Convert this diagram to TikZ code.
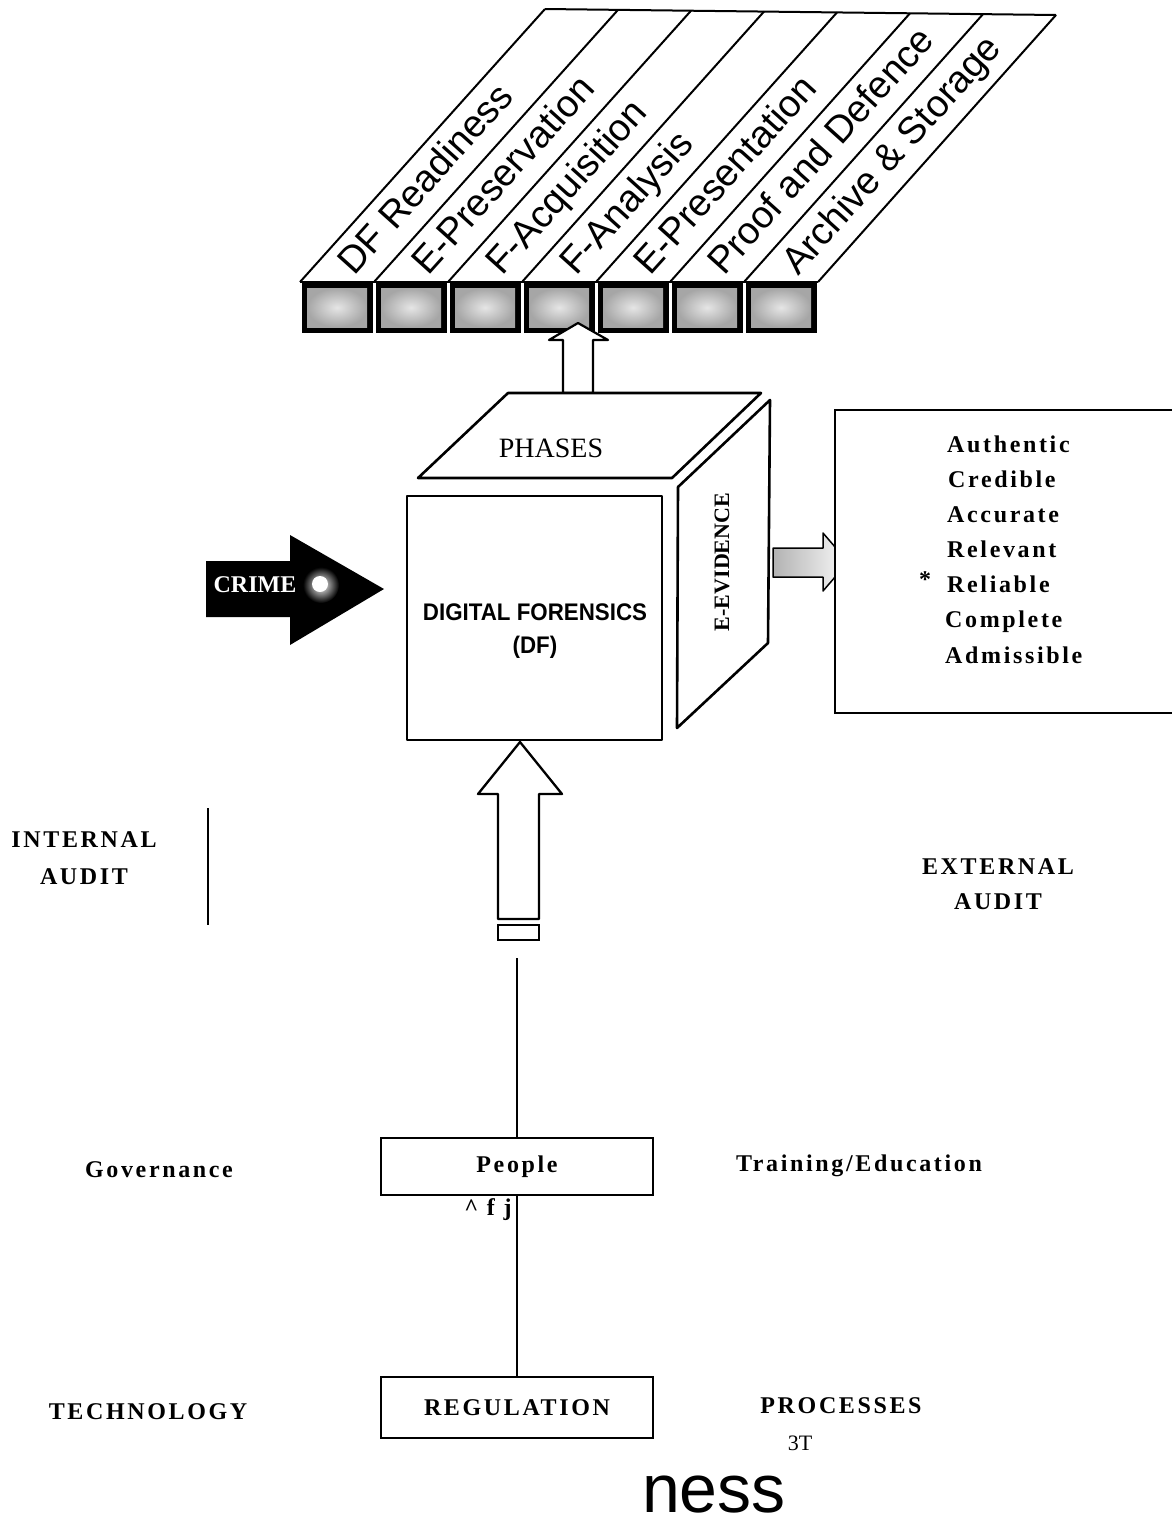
\documentclass[tikz,border=0pt]{standalone}
\usepackage{fontspec}
\setmainfont{Liberation Serif}
\newfontfamily\sansfam{Liberation Sans}
\newfontfamily\spacedserif{Liberation Serif}[LetterSpace=11]
\begin{document}
\begin{tikzpicture}[x=1pt,y=-1pt,
  lbl/.style={font=\spacedserif\bfseries\fontsize{24}{28}\selectfont, inner sep=0pt},
  stripelbl/.style={font=\sansfam\fontsize{38}{40}\selectfont, rotate=48, anchor=base west, inner sep=0pt},
  stripeline/.style={line width=2pt, line join=round},
  cubeline/.style={line width=2.6pt, line join=round},
  thinline/.style={line width=1.2pt},
  plainbox/.style={draw, line width=1.2pt, minimum width=272pt, inner sep=0pt}]
\useasboundingbox (0,0) rectangle (1172,1524);

% slanted phase strip
\foreach \k in {0,...,7}
  \draw[stripeline] ({300+74*\k},282) -- ({545+73*\k},{9+6*\k/7});
\draw[stripeline] (545,9) -- (1056,15);
\draw[stripeline] (300,282) -- (818,282);
\foreach \t [count=\i from 0] in {DF Readiness, E-Preservation, F-Acquisition, F-Analysis, E-Presentation, Proof and Defence, Archive \& Storage}
  \node[stripelbl] (ph\i) at ({354+74*\i},277) {\t};

% shaded phase blocks
\foreach \k in {0,...,6} {
  \fill[black] ({301.5+74*\k},282) rectangle ({372.5+74*\k},333);
  \shade[inner color=gray!20, outer color=gray!70] ({307+74*\k},288) rectangle ({367+74*\k},327);
}

% arrow from the cube up to the phases
\draw[cubeline, line width=2.2pt, fill=white] (578,323) -- (608,340) -- (593,340) -- (593,393)
  -- (563,393) -- (563,340) -- (549,340) -- cycle;

% cube
\draw[cubeline, fill=white] (508,393) -- (761,393) -- (672,478) -- (418,478) -- cycle;
\draw[cubeline, fill=white] (678,487) -- (770,400) -- (768,643) -- (677,728) -- cycle;
\draw[cubeline, fill=white] (407,496) rectangle (662,740);
\node[font=\fontsize{28}{32}\selectfont, inner sep=0pt] (phases) at (551,448) {PHASES};
\node[font=\sansfam\bfseries\fontsize{24}{28}\selectfont, inner sep=0pt] (df) at (535,612) {\scalebox{0.93}[1]{DIGITAL FORENSICS}};
\node[font=\sansfam\bfseries\fontsize{24}{28}\selectfont, inner sep=0pt] (dfabbr) at (535,647) {\scalebox{0.93}[1]{(DF)}};
\node[font=\bfseries\fontsize{22}{26}\selectfont, rotate=90, inner sep=0pt] (evid) at (722,562) {E-EVIDENCE};

% crime arrow with its splash
\fill[black] (206,561) -- (290,561) -- (290,535) -- (384,589) -- (290,645) -- (290,617) -- (206,617) -- cycle;
\shade[inner color=white, outer color=black] (321,585) circle (18);
\fill[white] (320,584) circle (8);
\node[font=\bfseries\fontsize{24}{28}\selectfont, text=white, inner sep=0pt] (crime) at (255,585) {CRIME};

% evidence arrow and quality box
\draw[line width=1.5pt, line join=round, left color=gray!60, right color=gray!5]
  (773,548) -- (823,548) -- (823,533) -- (848,562) -- (823,591) -- (823,577) -- (773,577) -- cycle;
\fill[white] (835,410) rectangle (1172,713);
\draw[thinline] (1172,410) -- (835,410) -- (835,713) -- (1172,713);
\node[lbl, anchor=base west] (q1) at (947,452) {Authentic};
\node[lbl, anchor=base west] (q2) at (948,487) {Credible};
\node[lbl, anchor=base west] (q3) at (947,522) {Accurate};
\node[lbl, anchor=base west] (q4) at (947,557) {Relevant};
\node[lbl, anchor=base west] (q5) at (947,592) {Reliable};
\node[lbl, anchor=base west] (q6) at (945,627) {Complete};
\node[lbl, anchor=base west] (q7) at (945,663) {Admissible};
\node[font=\bfseries\fontsize{24}{28}\selectfont, inner sep=0pt] (star) at (925,580) {*};

% arrow from below into the cube
\draw[cubeline, line width=2.3pt, fill=white] (520,742) -- (562,794) -- (539,794) -- (539,919)
  -- (498,919) -- (498,794) -- (478,794) -- cycle;
\draw[line width=2pt] (498,925) rectangle (539,940);

% audit labels
\node[lbl] (intaudit1) at (84,840) {INTERNAL};
\node[lbl] (intaudit2) at (84,877) {AUDIT};
\draw[line width=2.5pt] (208,808) -- (208,925);
\node[lbl] (extaudit1) at (998,867) {EXTERNAL};
\node[lbl] (extaudit2) at (998,902) {AUDIT};

% people / regulation chain
\coordinate (chaintop) at (517,958);
\node[plainbox, minimum height=57pt, lbl] (people) at (517,1166.5) {People};
\node[plainbox, minimum height=61pt, lbl] (reg) at (517,1407.5) {REGULATION};
\draw[thinline] (chaintop) -- (people.north);
\draw[thinline] (people.south) -- (reg.north);
\node[lbl, anchor=base] (pmark) at (488,1215) {\textasciicircum\ f j};

\node[lbl] (gov) at (159,1170) {Governance};
\node[lbl] (train) at (859,1166) {Training/Education};
\node[lbl] (tech) at (148,1412) {TECHNOLOGY};
\node[lbl] (proc) at (841,1406) {PROCESSES};
\node[font=\fontsize{22}{26}\selectfont, inner sep=0pt] (tt) at (800,1443) {3T};
\node[font=\sansfam\fontsize{68}{72}\selectfont, inner sep=0pt, anchor=base] (ness) at (714,1512) {ness};
\end{tikzpicture}
\end{document}
